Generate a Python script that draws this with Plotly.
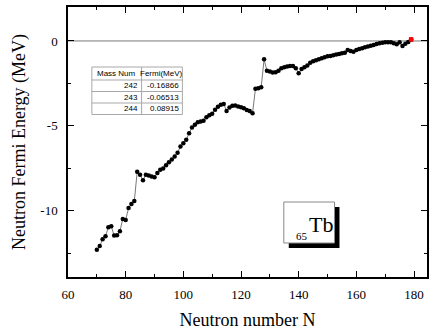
import plotly.graph_objects as go

# ---- data ----
neutron_n = list(range(70, 180))
fermi_energy = [
    -12.30, -12.08, -11.68, -11.50, -10.97, -10.91, -11.46, -11.44, -11.20, -10.48,  # 70-79
    -10.54, -9.84, -9.60, -9.43, -7.70, -7.88, -8.20, -7.88, -7.92, -7.98,          # 80-89
    -8.02, -7.78, -7.59, -7.51, -7.32, -7.14, -6.98, -6.80, -6.58, -6.22,           # 90-99
    -6.02, -5.82, -5.43, -5.10, -4.94, -4.78, -4.75, -4.70, -4.49, -4.38,           # 100-109
    -4.28, -4.05, -3.88, -3.76, -3.71, -4.12, -3.92, -3.82, -3.80, -3.86,           # 110-119
    -3.90, -3.96, -4.06, -4.12, -4.25, -2.82, -2.78, -2.72, -1.08, -1.75,           # 120-129
    -1.80, -1.86, -1.84, -1.75, -1.61, -1.55, -1.51, -1.48, -1.47, -1.61,           # 130-139
    -1.90, -1.65, -1.55, -1.45, -1.28, -1.20, -1.14, -1.08, -1.02, -0.96,           # 140-149
    -0.90, -0.88, -0.84, -0.80, -0.77, -0.73, -0.69, -0.53, -0.59, -0.63,           # 150-159
    -0.53, -0.47, -0.43, -0.37, -0.33, -0.28, -0.24, -0.18, -0.14, -0.10,           # 160-169
    -0.08, -0.08, -0.08, -0.14, -0.20, -0.08, -0.29, -0.16866, -0.06513, 0.08915,   # 170-179
]
table_header = ["Mass Num", "Fermi(MeV)"]
table_mass = ["242", "243", "244"]
table_fermi = ["-0.16866", "-0.06513", "0.08915"]
x_ticks = [60, 80, 100, 120, 140, 160, 180]
y_ticks = [0, -5, -10]

serif = "Liberation Serif"
sans = "Liberation Sans"

# layout geometry (pixels)
W, H = 430, 334
ML, MR, MT, MB = 68, 1, 7, 57
PW, PH = W - ML - MR, H - MT - MB


def px(xp):
    return (xp - ML) / PW


def py(yp):
    return (H - MB - yp) / PH


def label(x, y, text, font, xanchor="center"):
    fig.add_annotation(xref="paper", yref="paper", x=px(x), y=py(y),
                       xanchor=xanchor, yanchor="middle", text=text,
                       showarrow=False, font=font, borderpad=0)


fig = go.Figure()

# zero reference line
fig.add_hline(y=0, line=dict(color="#7a7a7a", width=1), layer="below")

fig.add_trace(go.Scatter(
    x=neutron_n, y=fermi_energy, mode="lines+markers",
    line=dict(color="#555555", width=0.8),
    marker=dict(color="black", size=4.5),
    showlegend=False,
))
fig.add_trace(go.Scatter(
    x=neutron_n[-1:], y=fermi_energy[-1:], mode="markers",
    marker=dict(color="red", size=4.5, symbol="square"),
    showlegend=False,
))

# ---- inset table (drawn with shapes + text) ----
tx0, tx1, tdiv = 92, 183, 142
row_edges = [67, 80, 91.5, 103, 114.5]
grid = "#a8a8a8"
fig.add_shape(type="rect", xref="paper", yref="paper",
              x0=px(tx0), x1=px(tx1), y0=py(row_edges[-1]), y1=py(row_edges[0]),
              fillcolor="white", line=dict(color=grid, width=1))
fig.add_shape(type="line", xref="paper", yref="paper",
              x0=px(tdiv), x1=px(tdiv), y0=py(row_edges[-1]), y1=py(row_edges[0]),
              line=dict(color=grid, width=1))
for e in row_edges[1:-1]:
    fig.add_shape(type="line", xref="paper", yref="paper",
                  x0=px(tx0), x1=px(tx1), y0=py(e), y1=py(e),
                  line=dict(color=grid, width=1))
tfont = dict(family=sans, size=8, color="black")
hy = (row_edges[0] + row_edges[1]) / 2
label((tx0 + tdiv) / 2, hy, table_header[0], tfont)
label((tdiv + tx1) / 2, hy, table_header[1], tfont)
for i, (m, f) in enumerate(zip(table_mass, table_fermi)):
    cy = (row_edges[i + 1] + row_edges[i + 2]) / 2
    label(tdiv - 3, cy, m, tfont, xanchor="right")
    label(tx1 - 2, cy, f, tfont, xanchor="right")

# ---- element label box with shadow ----
bx0, bx1, by0, by1 = 285, 336, 202, 243
fig.add_shape(type="rect", xref="paper", yref="paper",
              x0=px(bx0 + 5), x1=px(bx1 + 5), y0=py(by1 + 5), y1=py(by0 + 5),
              fillcolor="black", line=dict(width=0))
fig.add_shape(type="rect", xref="paper", yref="paper",
              x0=px(bx0), x1=px(bx1), y0=py(by1), y1=py(by0),
              fillcolor="white", line=dict(color="#888888", width=1))
label(322, 224, "Tb", dict(family=serif, size=22, color="black"))
label(303, 236, "65", dict(family=serif, size=11, color="black"))

axis_common = dict(
    showline=True, linecolor="black", linewidth=1.5, mirror="allticks",
    ticks="inside", ticklen=6, tickwidth=1.3, tickcolor="black",
    showgrid=False, zeroline=False,
    tickfont=dict(family=serif, size=13, color="black"),
)

fig.update_xaxes(
    range=[60, 184.5], tickvals=x_ticks, ticktext=[str(v) for v in x_ticks],
    minor=dict(tickvals=list(range(70, 185, 20)), ticklen=3.5, ticks="inside", tickcolor="black", tickwidth=1.2),
    title=dict(text="Neutron number N", font=dict(family=serif, size=18, color="black"), standoff=12),
    ticklabelstandoff=5,
    **axis_common,
)
fig.update_yaxes(
    range=[-13.9, 2.0], tickvals=y_ticks, ticktext=[str(v) for v in y_ticks],
    minor=dict(tickvals=[-12.5, -7.5, -2.5], ticklen=3.5, ticks="inside", tickcolor="black", tickwidth=1.2),
    title=dict(text="Neutron Fermi Energy (MeV)", font=dict(family=serif, size=18, color="black"), standoff=10),
    ticklabelstandoff=6,
    **axis_common,
)

fig.update_layout(
    width=W, height=H,
    margin=dict(l=ML, r=MR, t=MT, b=MB),
    paper_bgcolor="white", plot_bgcolor="white",
    font=dict(family=serif, color="black"),
)

fig.write_html("out.html")
